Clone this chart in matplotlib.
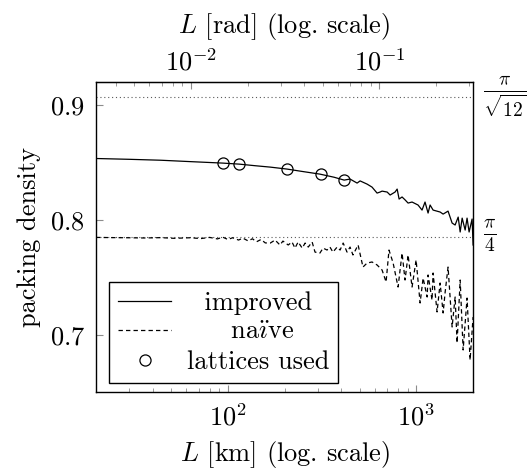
import numpy as np
import matplotlib
matplotlib.use("Agg")
import matplotlib.pyplot as plt
from matplotlib.ticker import LogLocator, FixedLocator, NullFormatter

plt.rcParams["font.family"] = ["cmr10", "DejaVu Serif"]
plt.rcParams["mathtext.fontset"] = "cm"
plt.rcParams["axes.formatter.use_mathtext"] = True
plt.rcParams["font.size"] = 19

EARTH_RADIUS_KM = 6371.0

# improved packing (solid line)
improved_km = [20, 30, 44, 63, 94, 115, 140, 168, 206, 242, 308, 366, 414, 445, 485,
               503, 548, 582, 619, 642, 658, 700, 726, 771, 791, 810, 840, 871, 904,
               949, 1021, 1072, 1112, 1154, 1183, 1227, 1337, 1387, 1473, 1548, 1606,
               1667, 1708, 1750, 1815, 1858, 1905, 1976, 2000]
improved = [0.8535, 0.8528, 0.8520, 0.8508, 0.8495, 0.8486, 0.8472, 0.8460, 0.8443,
            0.8425, 0.8399, 0.8372, 0.8347, 0.8356, 0.8321, 0.8340, 0.8312, 0.8286,
            0.8234, 0.8243, 0.8251, 0.8243, 0.8217, 0.8243, 0.8269, 0.8182, 0.8200,
            0.8175, 0.8147, 0.8156, 0.8130, 0.8086, 0.8156, 0.8060, 0.8130, 0.8086,
            0.8069, 0.8051, 0.8077, 0.7973, 0.7956, 0.8025, 0.7895, 0.8016, 0.7912,
            0.8016, 0.7895, 0.8008, 0.7782]

# naive packing (dashed line)
naive_km = [20, 25, 30, 36, 44, 52, 63, 72, 80, 88, 94, 100, 106, 114, 120, 128, 135,
            142, 150, 158, 168, 178, 189, 196, 209, 219, 227, 236, 248, 257, 267, 280,
            290, 308, 320, 336, 348, 361, 380, 394, 409, 429, 445, 461, 491, 521, 548,
            582, 619, 658, 691, 716, 753, 800, 840, 871, 904, 949, 997, 1047, 1086,
            1141, 1154, 1211, 1227, 1288, 1337, 1387, 1422, 1473, 1548, 1606, 1645,
            1708, 1771, 1858, 1928, 2000]
naive = [0.7848, 0.7846, 0.7845, 0.7843, 0.7846, 0.7840, 0.7845, 0.7838, 0.7848, 0.7835,
         0.7850, 0.7830, 0.7845, 0.7825, 0.7842, 0.7818, 0.7836, 0.7810, 0.7830, 0.7800,
         0.7799, 0.7825, 0.7782, 0.7816, 0.7782, 0.7808, 0.7755, 0.7808, 0.7755, 0.7799,
         0.7764, 0.7808, 0.7720, 0.7712, 0.7755, 0.7738, 0.7764, 0.7720, 0.7764, 0.7738,
         0.7799, 0.7720, 0.7764, 0.7695, 0.7782, 0.7590, 0.7625, 0.7634, 0.7608, 0.7564,
         0.7460, 0.7738, 0.7625, 0.7416, 0.7712, 0.7477, 0.7695, 0.7416, 0.7651, 0.7277,
         0.7494, 0.7329, 0.7521, 0.7303, 0.7538, 0.7199, 0.7451, 0.7190, 0.7373, 0.7590,
         0.7068, 0.7329, 0.6929, 0.7477, 0.6868, 0.7320, 0.6781, 0.7155]

# lattices used (circles)
lattice_km = [94, 114, 206, 312, 414]
lattice = [0.8496, 0.8487, 0.8443, 0.8399, 0.8347]

ref_values = [np.pi / np.sqrt(12), np.pi / 4]
ref_labels = [r"$\frac{\pi}{\sqrt{12}}$", r"$\frac{\pi}{4}$"]

fig = plt.figure(figsize=(5.28, 4.72), dpi=100)
ax = fig.add_axes([0.182, 0.169, 0.714, 0.657])

for v, lab in zip(ref_values, ref_labels):
    ax.axhline(v, color="0.35", linestyle=(0, (1, 2.5)), linewidth=0.8)
    ax.text(1.025, v, lab, transform=ax.get_yaxis_transform(),
            ha="left", va="center", fontsize=20)

# leading spaces roughly centre the shorter legend entries, as in the original
ax.plot(improved_km, improved, color="black", linewidth=0.9, label="  improved")
ax.plot(naive_km, naive, color="black", linewidth=0.9, linestyle=(0, (3.5, 2.5)),
        label=r"     na$\mathrm{\ddot{\imath}}$ve")
ax.plot(lattice_km, lattice, linestyle="none", marker="o", markersize=8,
        markerfacecolor="none", markeredgecolor="black", markeredgewidth=0.9,
        label="lattices used")

ax.set_xscale("log")
ax.set_xlim(20, 2000)
ax.set_ylim(0.65, 0.92)
ax.set_yticks([0.7, 0.8, 0.9])
ax.set_xlabel(r"$L$ [km] (log. scale)", labelpad=6)
ax.set_ylabel("packing density", labelpad=6)

ax.tick_params(axis="both", which="both", direction="in", color="0.55")
ax.tick_params(axis="both", which="major", length=5, pad=8)
ax.tick_params(axis="x", which="minor", length=3)
ax.xaxis.set_minor_locator(LogLocator(base=10, subs=np.arange(2, 10)))
ax.xaxis.set_minor_formatter(NullFormatter())

top = ax.secondary_xaxis("top", functions=(lambda x: x / EARTH_RADIUS_KM,
                                           lambda x: x * EARTH_RADIUS_KM))
top.set_xscale("log")
top.xaxis.set_major_locator(FixedLocator([1e-2, 1e-1]))
top.xaxis.set_minor_locator(LogLocator(base=10, subs=np.arange(2, 10)))
top.xaxis.set_minor_formatter(NullFormatter())
top.tick_params(axis="x", which="both", direction="in", color="0.55")
top.tick_params(axis="x", which="major", length=5, pad=5)
top.tick_params(axis="x", which="minor", length=3)
top.set_xlabel(r"$L$ [rad] (log. scale)", labelpad=11)

for s in ax.spines.values():
    s.set_linewidth(1.0)

leg = ax.legend(loc="lower left", bbox_to_anchor=(0.034, 0.029), borderaxespad=0,
                fancybox=False, edgecolor="black", framealpha=1,
                handlelength=2.0, handletextpad=0.6, labelspacing=0.22,
                borderpad=0.35, fontsize=19)
leg.get_frame().set_linewidth(1.0)

fig.savefig("out.png", dpi=100)
